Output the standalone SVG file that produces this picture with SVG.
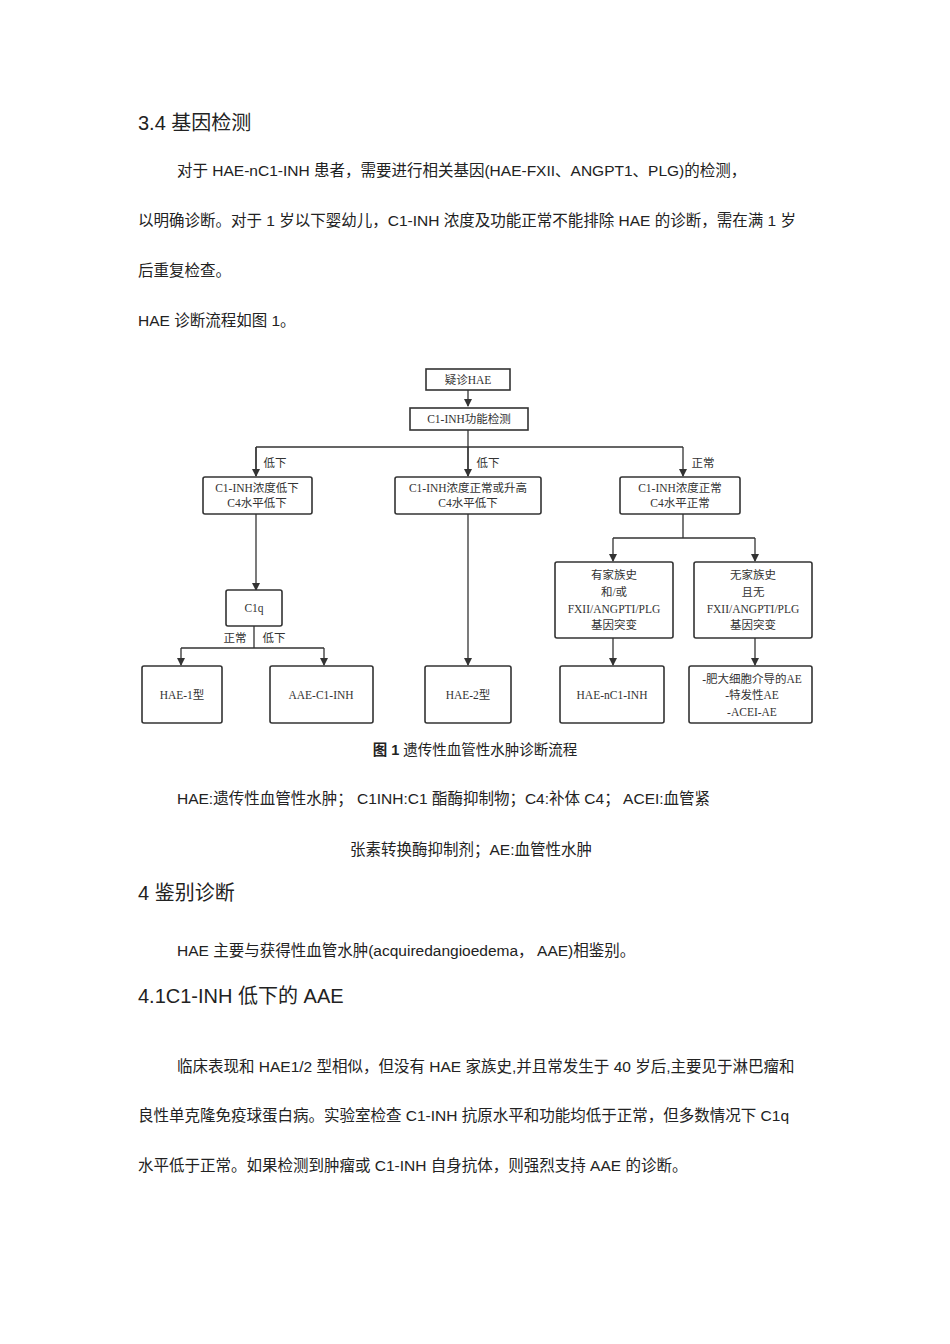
<svg xmlns="http://www.w3.org/2000/svg" width="950" height="1344" viewBox="0 0 950 1344">
<style>
.b{font-family:"Liberation Sans","Noto Sans CJK SC",sans-serif;font-size:15.5px;fill:#222}
.h{font-family:"Liberation Sans","Noto Sans CJK SC",sans-serif;font-size:20px;fill:#222}
.n{fill:#fff;stroke:#333;stroke-width:1.6}
.t{font-family:"Liberation Serif","Noto Sans CJK SC",serif;font-size:11.5px;fill:#333;text-anchor:middle}
.l{fill:none;stroke:#333;stroke-width:1.3}
</style>
<defs><marker id="a" markerWidth="8" markerHeight="8" refX="7" refY="4" orient="auto" markerUnits="userSpaceOnUse"><path d="M0,0L8,4L0,8z" fill="#333"/></marker></defs>
<rect width="950" height="1344" fill="#fff"/>
<text class="h" x="138" y="130">3.4 基因检测</text>
<text class="b" x="177" y="176">对于 HAE-nC1-INH 患者，需要进行相关基因(HAE-FXII、ANGPT1、PLG)的检测，</text>
<text class="b" x="138" y="226">以明确诊断。对于 1 岁以下婴幼儿，C1-INH 浓度及功能正常不能排除 HAE 的诊断，需在满 1 岁</text>
<text class="b" x="138" y="276">后重复检查。</text>
<text class="b" x="138" y="326">HAE 诊断流程如图 1。</text>
<g id="connectors">
<path class="l" d="M468,390V406" marker-end="url(#a)"/>
<path class="l" d="M468,430V447M256,447H683M256,447V476M468,447V476M683,447V476" marker-end="url(#a)"/>
<path class="l" d="M256,447V476" marker-end="url(#a)"/>
<path class="l" d="M468,447V476" marker-end="url(#a)"/>
<path class="l" d="M256,514V590" marker-end="url(#a)"/>
<path class="l" d="M254,626V648M181,648H324M181,648V665" marker-end="url(#a)"/>
<path class="l" d="M324,648V665" marker-end="url(#a)"/>
<path class="l" d="M468,514V665" marker-end="url(#a)"/>
<path class="l" d="M683,514V538M613,538H755M613,538V561" marker-end="url(#a)"/>
<path class="l" d="M755,538V561" marker-end="url(#a)"/>
<path class="l" d="M613,638V665" marker-end="url(#a)"/>
<path class="l" d="M755,638V665" marker-end="url(#a)"/>
<text class="t" x="275" y="467">低下</text>
<text class="t" x="488" y="467">低下</text>
<text class="t" x="703" y="467">正常</text>
<text class="t" x="235" y="642">正常</text>
<text class="t" x="274" y="642">低下</text>
</g>
<g id="n1"><rect class="n" x="426" y="369" width="84" height="21"/><text class="t" x="468" y="384">疑诊HAE</text></g>
<g id="n2"><rect class="n" x="410" y="408" width="118" height="22"/><text class="t" x="469" y="423">C1-INH功能检测</text></g>
<g id="n3"><rect class="n" x="203" y="477" width="109" height="37" rx="2"/><text class="t" x="257" y="492">C1-INH浓度低下</text><text class="t" x="257" y="507">C4水平低下</text></g>
<g id="n4"><rect class="n" x="395" y="477" width="146" height="37" rx="2"/><text class="t" x="468" y="492">C1-INH浓度正常或升高</text><text class="t" x="468" y="507">C4水平低下</text></g>
<g id="n5"><rect class="n" x="620" y="477" width="120" height="37" rx="2"/><text class="t" x="680" y="492">C1-INH浓度正常</text><text class="t" x="680" y="507">C4水平正常</text></g>
<g id="n6"><rect class="n" x="226" y="590" width="56" height="36" rx="2"/><text class="t" x="254" y="612">C1q</text></g>
<g id="n7"><rect class="n" x="555" y="562" width="118" height="76" rx="2"/><text class="t" x="614" y="579">有家族史</text><text class="t" x="614" y="596">和/或</text><text class="t" x="614" y="613">FXII/ANGPTI/PLG</text><text class="t" x="614" y="629">基因突变</text></g>
<g id="n8"><rect class="n" x="694" y="562" width="118" height="76" rx="2"/><text class="t" x="753" y="579">无家族史</text><text class="t" x="753" y="596">且无</text><text class="t" x="753" y="613">FXII/ANGPTI/PLG</text><text class="t" x="753" y="629">基因突变</text></g>
<g id="n9"><rect class="n" x="142" y="666" width="80" height="57" rx="2"/><text class="t" x="182" y="699">HAE-1型</text></g>
<g id="n10"><rect class="n" x="270" y="666" width="103" height="57" rx="2"/><text class="t" x="321" y="699">AAE-C1-INH</text></g>
<g id="n11"><rect class="n" x="425" y="666" width="86" height="57" rx="2"/><text class="t" x="468" y="699">HAE-2型</text></g>
<g id="n12"><rect class="n" x="560" y="666" width="104" height="57" rx="2"/><text class="t" x="612" y="699">HAE-nC1-INH</text></g>
<g id="n13"><rect class="n" x="689" y="666" width="123" height="57" rx="2"/><text class="t" x="752" y="683">-肥大细胞介导的AE</text><text class="t" x="752" y="699">-特发性AE</text><text class="t" x="752" y="716">-ACEI-AE</text></g>
<text class="b" x="475" y="755" text-anchor="middle" style="font-size:14.5px"><tspan font-weight="bold">图 1</tspan> 遗传性血管性水肿诊断流程</text>
<text class="b" x="177" y="804">HAE:遗传性血管性水肿； C1INH:C1 酯酶抑制物；C4:补体 C4； ACEI:血管紧</text>
<text class="b" x="350" y="855">张素转换酶抑制剂；AE:血管性水肿</text>
<text class="h" x="138" y="900">4 鉴别诊断</text>
<text class="b" x="177" y="956">HAE 主要与获得性血管水肿(acquiredangioedema， AAE)相鉴别。</text>
<text class="h" x="138" y="1003">4.1C1-INH 低下的 AAE</text>
<text class="b" x="177" y="1072">临床表现和 HAE1/2 型相似，但没有 HAE 家族史,并且常发生于 40 岁后,主要见于淋巴瘤和</text>
<text class="b" x="138" y="1121">良性单克隆免疫球蛋白病。实验室检查 C1-INH 抗原水平和功能均低于正常，但多数情况下 C1q</text>
<text class="b" x="138" y="1171">水平低于正常。如果检测到肿瘤或 C1-INH 自身抗体，则强烈支持 AAE 的诊断。</text>
</svg>
